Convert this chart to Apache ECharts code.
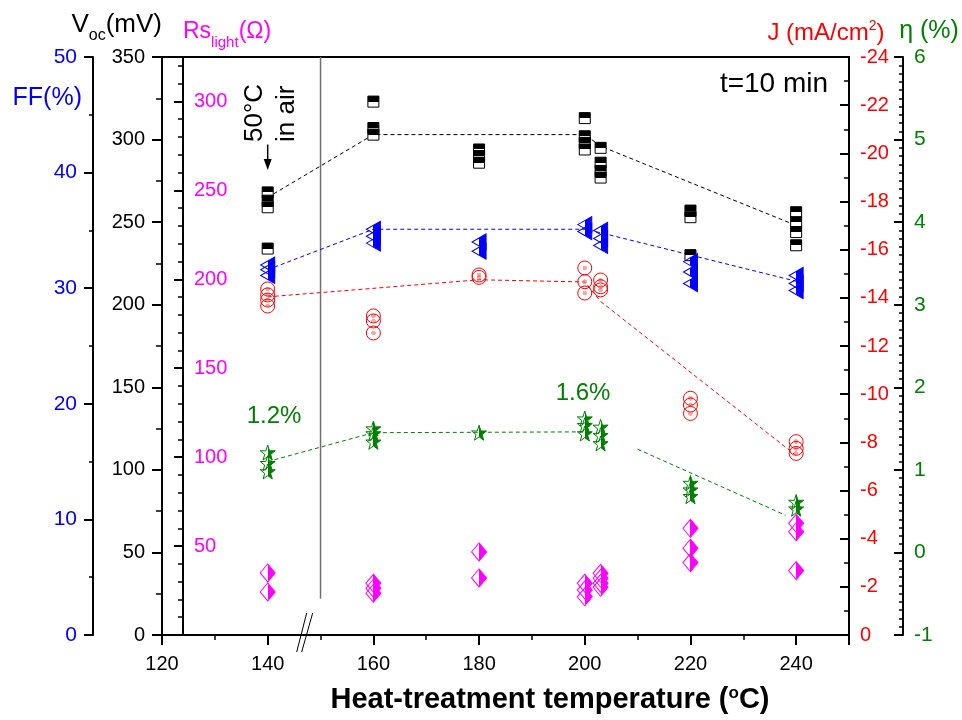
<!DOCTYPE html>
<html><head><meta charset="utf-8">
<script src="https://cdn.jsdelivr.net/npm/echarts@6/dist/echarts.min.js"></script>
<style>html,body{margin:0;padding:0;background:#fff}#c{width:962px;height:720px}</style>
</head><body><div id="c"></div>
<script>
const FONT = "'Liberation Sans', Arial, sans-serif";

// ---- data ----
const xTicks = [120, 140, 160, 180, 200, 220, 240];

const vocT = [140,140,140,140, 160,160,160, 180,180,180, 200,200,200,200, 203,203,203,203, 220,220,220, 240,240,240,240];
const vocV = [268,263,259,234, 323,307,303, 294,290,286, 313,302,298,294, 295,286,281,277, 257,253,230, 256,250,244,236];

const ffT = [140,140,140, 160,160,160, 180,180, 200,200, 203,203,203, 220,220,220, 240,240,240];
const ffV = [32.0,31.6,31.1, 35.1,34.5,33.9, 34.0,33.2, 35.5,34.9, 35.0,34.3,33.7, 32.3,31.4,30.4, 31.1,30.4,29.8];

const jT = [140,140,140,140, 160,160,160, 180,180, 200,200,200, 203,203,203, 220,220,220, 240,240,240];
const jV = [-14.37,-14.12,-13.91,-13.66, -13.25,-13.04,-12.54, -14.95,-14.85, -15.24,-14.67,-14.2, -14.74,-14.46,-14.33, -9.83,-9.55,-9.2, -8.03,-7.75,-7.54];

const etaT = [140,140,140, 160,160,160, 180, 200,200,200, 203,203,203, 220,220,220, 240,240];
const etaV = [1.21,1.08,0.98, 1.50,1.44,1.34, 1.45, 1.62,1.54,1.44, 1.52,1.42,1.32, 0.84,0.76,0.68, 0.61,0.53];

const rsT = [140,140, 160,160,160, 180,180, 200,200,200, 203,203,203,203, 220,220,220, 240,240,240];
const rsV = [34.9,24.2, 29.1,26.3,23.5, 46.7,32.1, 29.1,25.3,21.5, 34.7,31.9,29.1,26.8, 60.0,48.8,40.7, 62.8,58.1,36.2];

// dashed guide lines
const vocGuideT = [140,160,200,203,240];
const vocGuideV = [265,303,303,296,248];
const ffGuideT = [140,160,200,203,240];
const ffGuideV = [31.6,35.1,35.1,34.8,30.6];
const jGuideT = [140,180,200,203,240];
const jGuideV = [-14.04,-14.75,-14.66,-13.85,-7.45];
const etaGuide1T = [140,160,200];
const etaGuide1V = [1.10,1.45,1.46];
const etaGuide2T = [210,238];
const etaGuide2V = [1.25,0.45];

// vertical separator at 150 °C (Voc units)
const sepT = [150,150];
const sepV = [22,350];

function pairs(t, v){ return t.map((x,i)=>[x, v[i]]); }

const G = echarts.graphic;
function hGrad(l, r){ return new G.LinearGradient(0,0,1,0,[{offset:0,color:l},{offset:0.5,color:l},{offset:0.5,color:r},{offset:1,color:r}]); }
function vGrad(t, b){ return new G.LinearGradient(0,0,0,1,[{offset:0,color:t},{offset:0.5,color:t},{offset:0.5,color:b},{offset:1,color:b}]); }
const dotCircle = new G.RadialGradient(0.5,0.5,0.5,[{offset:0,color:'rgba(255,90,90,0.55)'},{offset:0.3,color:'rgba(255,90,90,0.55)'},{offset:0.32,color:'rgba(255,255,255,0)'},{offset:1,color:'rgba(255,255,255,0)'}]);

const STAR = 'path://M50,0 L61.8,35.1 L98.1,34.5 L69.1,56.7 L79.4,90.5 L50,70 L20.6,90.5 L30.9,56.7 L1.9,34.5 L38.2,35.1 Z';
const LTRI = 'path://M0,50 L100,0 L100,100 Z';

const BLACK='#000', BLUE='#0000ff', RED='#ff0000', GREEN='#008000', MAG='#ff00ff';

function yAx(o){
  return Object.assign({
    type:'value', splitLine:{show:false},
    axisLine:{show:true, onZero:false, lineStyle:{color:BLACK, width:2}},
    axisTick:{show:true, length:9, lineStyle:{color:BLACK, width:2}},
    minorTick:{show:true, length:5, lineStyle:{color:BLACK, width:1.5}},
    minorSplitLine:{show:false}
  }, o);
}
function lbl(color, size, margin, extra){ return Object.assign({color:color, fontSize:size, fontFamily:FONT, margin:margin}, extra||{}); }

const chart = echarts.init(document.getElementById('c'));
const option = {
  animation:false,
  backgroundColor:'#fff',
  grid:{left:162, top:57, width:687, height:578, show:true, borderColor:BLACK, borderWidth:2, backgroundColor:'transparent'},
  xAxis:{
    type:'value', min:xTicks[0], max:250, interval:20, position:'bottom',
    axisLine:{onZero:false, lineStyle:{color:BLACK, width:2}},
    axisTick:{length:10, lineStyle:{color:BLACK, width:2}},
    minorTick:{show:true, splitNumber:2, length:5, lineStyle:{color:BLACK, width:1.5}},
    splitLine:{show:false},
    axisLabel:lbl(BLACK, 20, 19, {showMaxLabel:false}),
    name:'{t|Heat-treatment temperature (}{s|o}{t|C)}',
    nameLocation:'middle', nameGap:48,
    nameTextStyle:{align:'center', verticalAlign:'top', padding:[0,0,0,89],
      rich:{t:{fontSize:29, fontWeight:'bold', fontFamily:FONT, color:BLACK, lineHeight:34},
            s:{fontSize:17, fontWeight:'bold', fontFamily:FONT, color:BLACK, lineHeight:17, verticalAlign:'top', padding:[2,0,0,0]}}}
  },
  yAxis:[
    yAx({position:'left', offset:0, min:0, max:350, interval:50,
      axisTick:{length:10, lineStyle:{color:BLACK, width:2}},
      minorTick:{show:true, splitNumber:2, length:6, lineStyle:{color:BLACK, width:1.5}},
      axisLabel:lbl(BLACK, 20, 17),
      name:'{v|V}{s|oc}{v|(mV)}', nameLocation:'end', nameGap:15,
      nameTextStyle:{align:'right', verticalAlign:'bottom',
        rich:{v:{fontSize:26, lineHeight:30, verticalAlign:'top', color:BLACK, fontFamily:FONT},
              s:{fontSize:16, lineHeight:16, verticalAlign:'top', padding:[16,0,0,0], color:BLACK, fontFamily:FONT}}}}),
    yAx({position:'left', offset:69, min:0, max:50, interval:10,
      minorTick:{show:true, splitNumber:2, length:4, lineStyle:{color:BLACK, width:1.5}},
      axisLabel:lbl(BLUE, 21, 16),
      name:'FF(%)', nameLocation:'end', nameGap:-41,
      nameTextStyle:{color:BLUE, fontSize:25, fontFamily:FONT, align:'right', verticalAlign:'middle', padding:[0,11,0,0]}}),
    yAx({position:'left', offset:-21, min:0, max:325, interval:50,
      minorTick:{show:true, splitNumber:5, length:5, lineStyle:{color:BLACK, width:1.5}},
      axisLabel:lbl(MAG, 20, 11, {inside:true, showMaxLabel:false, showMinLabel:false}),
      name:'{m|Rs}{s|light}{m|(Ω)}', nameLocation:'end', nameGap:9,
      nameTextStyle:{align:'left', verticalAlign:'bottom',
        rich:{m:{fontSize:23, lineHeight:28, verticalAlign:'top', color:MAG, fontFamily:FONT},
              s:{fontSize:15, lineHeight:15, verticalAlign:'top', padding:[15,0,0,0], color:MAG, fontFamily:FONT}}}}),
    yAx({position:'right', offset:0, min:-24, max:0, interval:2, inverse:true,
      axisTick:{show:true, inside:true, length:9, lineStyle:{color:BLACK, width:2}},
      minorTick:{show:true, splitNumber:2, length:5, lineStyle:{color:BLACK, width:1.5}},
      axisLabel:lbl(RED, 20, 11),
      name:'{m|J (mA/cm}{p|2}{m|)}', nameLocation:'start', nameGap:12,
      nameTextStyle:{align:'center', verticalAlign:'bottom', padding:[0,46,0,0],
        rich:{m:{fontSize:24, lineHeight:28, verticalAlign:'bottom', color:RED, fontFamily:FONT},
              p:{fontSize:14, lineHeight:14, verticalAlign:'top', padding:[2,0,0,0], color:RED, fontFamily:FONT}}}}),
    yAx({position:'right', offset:54, min:-1, max:6, interval:1,
      axisTick:{show:true, inside:true, length:9, lineStyle:{color:BLACK, width:2}},
      minorTick:{show:true, splitNumber:10, length:4, lineStyle:{color:BLACK, width:1.5}},
      axisLabel:lbl(GREEN, 21, 11),
      name:'η (%)', nameLocation:'end', nameGap:12,
      nameTextStyle:{color:GREEN, fontSize:25, lineHeight:28, fontFamily:FONT, align:'center', verticalAlign:'bottom', padding:[0,0,0,52]}})
  ],
  series:[
    {name:'sep', type:'line', yAxisIndex:0, data:pairs(sepT, sepV), symbol:'none', silent:true, z:1,
      lineStyle:{color:'#707070', width:1.5}},
    {name:'Voc guide', type:'line', yAxisIndex:0, data:pairs(vocGuideT, vocGuideV), symbol:'none', silent:true, z:2,
      lineStyle:{color:BLACK, width:1, type:[4,3]}},
    {name:'FF guide', type:'line', yAxisIndex:1, data:pairs(ffGuideT, ffGuideV), symbol:'none', silent:true, z:2,
      lineStyle:{color:BLUE, width:1, type:[4,3]}},
    {name:'J guide', type:'line', yAxisIndex:3, data:pairs(jGuideT, jGuideV), symbol:'none', silent:true, z:2,
      lineStyle:{color:RED, width:1, type:[4,3]}},
    {name:'eta guide 1', type:'line', yAxisIndex:4, data:pairs(etaGuide1T, etaGuide1V), symbol:'none', silent:true, z:2,
      lineStyle:{color:GREEN, width:1, type:[4,3]}},
    {name:'eta guide 2', type:'line', yAxisIndex:4, data:pairs(etaGuide2T, etaGuide2V), symbol:'none', silent:true, z:2,
      lineStyle:{color:GREEN, width:1, type:[4,3]}},
    {name:'Voc', type:'scatter', yAxisIndex:0, data:pairs(vocT, vocV), symbol:'rect', symbolSize:[11,11], z:5,
      itemStyle:{color:vGrad(BLACK,'#fff'), borderColor:BLACK, borderWidth:1, opacity:1}},
    {name:'FF', type:'scatter', yAxisIndex:1, data:pairs(ffT, ffV), symbol:LTRI, symbolSize:[14,16], z:5,
      itemStyle:{color:hGrad('rgba(255,255,255,0)',BLUE), borderColor:BLUE, borderWidth:1, opacity:1}},
    {name:'J', type:'scatter', yAxisIndex:3, data:pairs(jT, jV), symbol:'circle', symbolSize:14, z:5,
      itemStyle:{color:dotCircle, borderColor:RED, borderWidth:1, opacity:1}},
    {name:'eta', type:'scatter', yAxisIndex:4, data:pairs(etaT, etaV), symbol:STAR, symbolSize:15, z:5,
      itemStyle:{color:hGrad('rgba(255,255,255,0)',GREEN), borderColor:GREEN, borderWidth:1, opacity:1}},
    {name:'Rs', type:'scatter', yAxisIndex:2, data:pairs(rsT, rsV), symbol:'diamond', symbolSize:[15,18], z:5,
      itemStyle:{color:hGrad('rgba(255,255,255,0)',MAG), borderColor:MAG, borderWidth:1, opacity:1}}
  ]
};
chart.setOption(option);

// annotations positioned through the chart's own scales
const P = (x,y)=>chart.convertToPixel({xAxisIndex:0, yAxisIndex:0}, [x,y]);
const a1 = P(140, 297), a2 = P(140, 281.5);
const br = P(147, 0);
function txt(t, x, y, size, color, rot, align){
  return {type:'text', x:x, y:y, rotation:rot||0, z:10, silent:true,
    style:{text:t, font:size+'px '+FONT, fill:color, align:align||'center', verticalAlign:'middle', textAlign:align||'center', textVerticalAlign:'middle'}};
}
chart.setOption({graphic:[
  {type:'line', silent:true, z:10, shape:{x1:a1[0], y1:a1[1], x2:a2[0], y2:a2[1]-8}, style:{stroke:BLACK, lineWidth:1.5}},
  {type:'polygon', silent:true, z:10, shape:{points:[[a2[0]-4,a2[1]-11],[a2[0]+4,a2[1]-11],[a2[0],a2[1]]]}, style:{fill:BLACK}},
  {type:'line', silent:true, z:10, shape:{x1:br[0]-8, y1:br[1]+17, x2:br[0]+2, y2:br[1]-22}, style:{stroke:BLACK, lineWidth:1}},
  {type:'line', silent:true, z:10, shape:{x1:br[0]-3, y1:br[1]+17, x2:br[0]+8, y2:br[1]-22}, style:{stroke:BLACK, lineWidth:1}},
  txt('t=10 min', 774, 84, 28, BLACK),
  txt('50°C', 255, 142, 26, BLACK, Math.PI/2, 'left'),
  txt('in air', 287, 142, 26, BLACK, Math.PI/2, 'left'),
  txt('1.2%', 274, 416, 24, GREEN),
  txt('1.6%', 583, 393, 24, GREEN)
]});
</script></body></html>
